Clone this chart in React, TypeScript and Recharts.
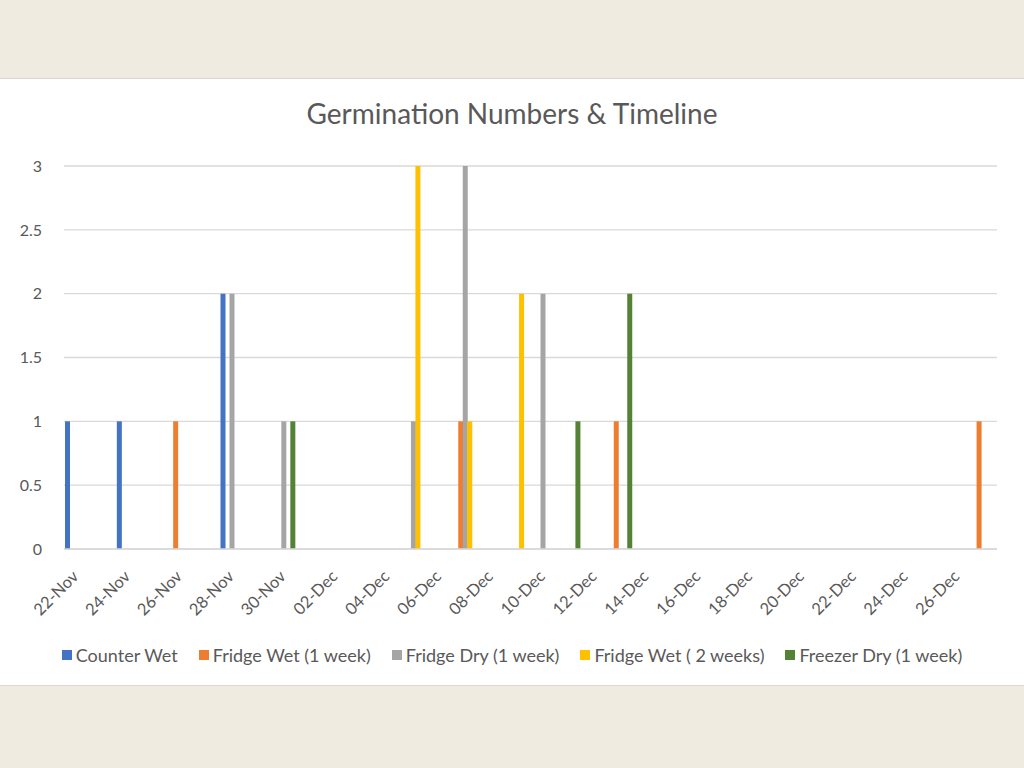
import { Bar, BarChart, CartesianGrid, XAxis, YAxis } from 'recharts';

// one slot per day, 22-Nov .. 27-Dec
const DAYS = [
  '22-Nov', '23-Nov', '24-Nov', '25-Nov', '26-Nov', '27-Nov', '28-Nov', '29-Nov', '30-Nov',
  '01-Dec', '02-Dec', '03-Dec', '04-Dec', '05-Dec', '06-Dec', '07-Dec', '08-Dec', '09-Dec',
  '10-Dec', '11-Dec', '12-Dec', '13-Dec', '14-Dec', '15-Dec', '16-Dec', '17-Dec', '18-Dec',
  '19-Dec', '20-Dec', '21-Dec', '22-Dec', '23-Dec', '24-Dec', '25-Dec', '26-Dec', '27-Dec',
];

const counterWet: Record<string, number> = { '22-Nov': 1, '24-Nov': 1, '28-Nov': 2 };
const fridgeWet1: Record<string, number> = { '26-Nov': 1, '07-Dec': 1, '13-Dec': 1, '27-Dec': 1 };
const fridgeDry1: Record<string, number> = { '28-Nov': 2, '30-Nov': 1, '05-Dec': 1, '07-Dec': 3, '10-Dec': 2 };
const fridgeWet2: Record<string, number> = { '05-Dec': 3, '07-Dec': 1, '09-Dec': 2 };
const freezerDry1: Record<string, number> = { '30-Nov': 1, '11-Dec': 1, '13-Dec': 2 };

const Y_TICKS = [0, 0.5, 1, 1.5, 2, 2.5, 3];

const SERIES = [
  { key: 'counterWet', name: 'Counter Wet', color: '#4472c4', values: counterWet },
  { key: 'fridgeWet1', name: 'Fridge Wet (1 week)', color: '#ed7d31', values: fridgeWet1 },
  { key: 'fridgeDry1', name: 'Fridge Dry (1 week)', color: '#a5a5a5', values: fridgeDry1 },
  { key: 'fridgeWet2', name: 'Fridge Wet ( 2 weeks)', color: '#ffc000', values: fridgeWet2 },
  { key: 'freezerDry1', name: 'Freezer Dry (1 week)', color: '#548235', values: freezerDry1 },
];

const rows = DAYS.map((day) => {
  const row: Record<string, string | number | null> = { day };
  SERIES.forEach((s) => {
    row[s.key] = s.values[day] ?? null;
  });
  return row;
});

const FONT = 'Lato, "Open Sans", sans-serif';
const TEXT = '#595959';

function DateTick(props: any) {
  const { x, y, payload } = props;
  return (
    <g transform={`translate(${x + 2.5},${y + 20.5})`}>
      <text textAnchor="end" transform="rotate(-45)" fill={TEXT} fontSize={16.5} fontFamily={FONT}>
        {payload.value}
      </text>
    </g>
  );
}

export default function App() {
  return (
    <div style={{ position: 'absolute', left: 0, top: 0, width: 1024, height: 768, background: '#efebe1' }}>
      <div
        style={{
          position: 'absolute',
          left: 0,
          top: 78,
          width: 1024,
          height: 608,
          background: '#fff',
          borderTop: '1px solid #dcd8cf',
          borderBottom: '1px solid #dcd8cf',
          boxSizing: 'border-box',
        }}
      >
        <div
          style={{
            position: 'absolute',
            top: 17,
            width: '100%',
            textAlign: 'center',
            fontFamily: FONT,
            fontSize: 28,
            color: TEXT,
          }}
        >
          Germination Numbers &amp; Timeline
        </div>
        <BarChart
          width={1024}
          height={608}
          data={rows}
          margin={{ top: 87, right: 27, left: 0, bottom: 68 }}
          barSize={5}
          barGap={-0.5}
        >
          <CartesianGrid vertical={false} stroke="#d9d9d9" strokeWidth={1.3} />
          <XAxis
            dataKey="day"
            interval={1}
            height={70}
            axisLine={{ stroke: '#d9d9d9', strokeWidth: 1.3 }}
            tickLine={false}
            tick={<DateTick />}
          />
          <YAxis
            width={64}
            domain={[0, 3]}
            ticks={Y_TICKS}
            axisLine={false}
            tickLine={false}
            tickSize={0}
            tickMargin={22}
            tick={{ fill: TEXT, fontSize: 16, fontFamily: FONT }}
          />
          {SERIES.map((s) => (
            <Bar key={s.key} dataKey={s.key} name={s.name} fill={s.color} isAnimationActive={false} />
          ))}
        </BarChart>
        <div
          style={{
            position: 'absolute',
            top: 565,
            width: '100%',
            display: 'flex',
            justifyContent: 'center',
            gap: 21,
            fontFamily: FONT,
            fontSize: 18,
            color: TEXT,
          }}
        >
          {SERIES.map((s) => (
            <div key={s.key} style={{ display: 'flex', alignItems: 'center', gap: 4 }}>
              <span style={{ width: 10, height: 10, background: s.color, display: 'inline-block' }} />
              <span>{s.name}</span>
            </div>
          ))}
        </div>
      </div>
    </div>
  );
}
